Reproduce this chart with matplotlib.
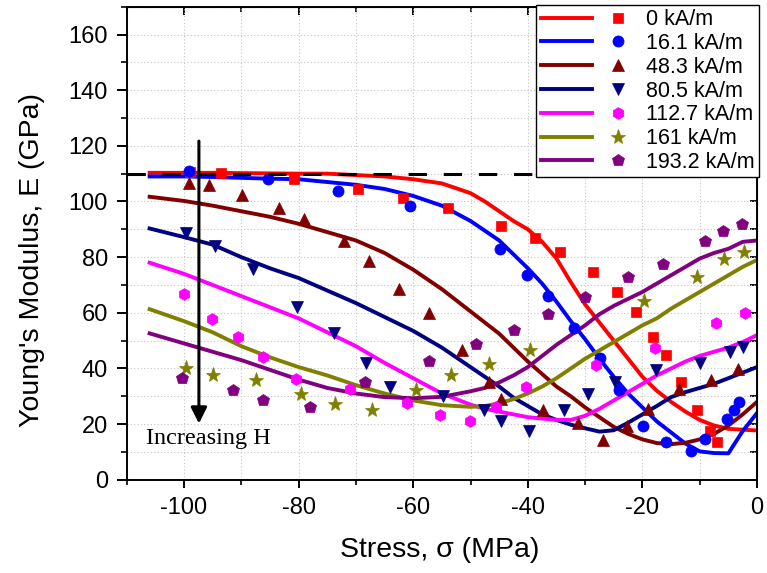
import matplotlib
matplotlib.use('Agg')
import matplotlib.pyplot as plt
from matplotlib.legend_handler import HandlerTuple
from matplotlib.ticker import MultipleLocator

plt.rcParams['font.family'] = ['Liberation Sans', 'DejaVu Sans']
plt.rcParams['axes.unicode_minus'] = False

# field strengths
labels = ['0 kA/m', '16.1 kA/m', '48.3 kA/m', '80.5 kA/m',
          '112.7 kA/m', '161 kA/m', '193.2 kA/m']
colors = ['#FF0000', '#0000FF', '#800000', '#000080',
          '#FF00FF', '#808000', '#800080']
markers = ['s', 'o', '^', 'v', 'h', '*', 'p']
msizes = [7.5, 8, 9, 9, 8.5, 11, 9]

# model curves (stress in MPa, E in GPa)
fit_x = [-106, -100, -95, -90, -85, -80, -75, -70, -65, -60, -55, -50, -47.5,
         -45, -42.5, -40, -37.5, -35, -32.5, -30, -27.5, -25, -22.5, -20,
         -17.5, -15, -12.5, -10, -7.5, -5, -2.5, 0]
fit_0 = [110.3, 110.3, 110.3, 110.2, 110.1, 110, 110, 109.5, 109, 108, 106.5,
         103, 100, 96.5, 93, 90, 85.5, 79.5, 71, 63, 56.5, 50, 43.5, 37,
         32, 28, 24.5, 21.5, 19.5, 18.3, 18, 17.7]
fit_16 = [109, 109, 108.8, 108.5, 108.2, 108, 107, 106, 104.5, 102, 98.5,
          93, 89.5, 86, 81, 76, 70.5, 64, 57, 50.5, 43.5, 37, 31, 26,
          21, 17, 13, 10.2, 9.6, 9.5, 17.5, 24]
fit_48 = [101.7, 100.2, 98.5, 96.5, 94.5, 92, 89, 86, 81.5, 75.5, 68.5,
          60.5, 56.5, 52.5, 47.5, 42.5, 38, 33.5, 30, 26, 22.5, 19, 16.5,
          14.5, 13.2, 12.8, 13.3, 14.5, 16.5, 19.5, 23.5, 28]
fit_80 = [90.3, 87.2, 84.5, 80, 76, 72.5, 68, 63.5, 58.5, 53.5, 47.5, 40.5,
          37, 33.5, 29.5, 26.5, 23.5, 21.5, 19.8, 18.5, 17.3, 17.8, 20.5,
          23.5, 26.5, 29.7, 31.5, 33, 34.5, 36.5, 38.5, 40.5]
fit_112 = [78, 74, 70, 66, 62, 58, 53, 48, 42, 36.5, 31, 27, 25.5, 24.5,
           23.5, 22.5, 22, 21.5, 21.5, 23, 25.5, 28.5, 31.5, 34.5, 37.5, 40,
           42.5, 44.5, 46, 47.5, 49.5, 52]
fit_161 = [61.3, 57, 53, 48, 44, 40.5, 37.5, 34, 31, 28.5, 26.8, 26.2, 26.5,
           27.5, 29, 31, 33.5, 36.5, 40, 43.5, 46.5, 49.5, 52.5, 55.5, 58,
           61.5, 64.5, 67.5, 70.5, 73.5, 76.5, 79]
fit_193 = [52.6, 49, 46, 43, 39.5, 36, 33, 31, 29.7, 29.3, 29.8, 31.8, 33,
           35, 37.5, 40.5, 44.5, 48.5, 52, 55.5, 59.5, 62.5, 65, 67.5, 70.5,
           73.5, 76.5, 79.5, 81.5, 83, 85.5, 86]
fits = [fit_0, fit_16, fit_48, fit_80, fit_112, fit_161, fit_193]

# measured points
x_0 = [-99, -93.6, -80.8, -69.7, -61.8, -54, -44.6, -38.7, -34.4, -28.7,
       -24.5, -21.2, -18.2, -15.9, -13.3, -10.5, -8.2, -6.9]
y_0 = [110.5, 110.4, 108, 104.6, 101.3, 97.7, 91.3, 86.9, 81.8, 74.8, 67.4,
       60.2, 51.4, 44.8, 35.1, 24.9, 17.7, 13.5]
x_16 = [-99.1, -85.4, -73.1, -60.5, -44.9, -40.1, -36.4, -32, -27.4, -24.1,
        -19.9, -15.8, -11.6, -9.1, -5.3, -4.1, -3.1]
y_16 = [111, 108, 103.7, 98.3, 82.9, 73.6, 66.2, 54.4, 43.6, 32.4, 19.5,
        13.5, 10.5, 14.7, 21.9, 25.2, 27.9]
x_48 = [-99.1, -95.6, -89.8, -83.5, -79, -72, -67.8, -62.4, -57.3, -51.4,
        -46.8, -44.6, -37.3, -31.2, -26.9, -22.7, -19.1, -13.6, -8.1, -3.3]
y_48 = [106.7, 106.1, 102.5, 97.7, 93.7, 85.7, 78.6, 68.6, 60.1, 46.8, 35.1,
        29.1, 24.9, 20.3, 14.3, 19.5, 25.5, 32.7, 35.7, 39.7]
x_80 = [-99.7, -94.6, -88, -80.3, -73.8, -68.3, -64, -54.8, -47.6, -44.6,
        -39.8, -33.7, -29.5, -24.8, -17.7, -10, -4.8, -2.5]
y_80 = [88.7, 83.9, 75.6, 62.2, 52.9, 41.9, 33.2, 30, 24.9, 21.3, 17.5, 24.9,
        30.9, 35.1, 39.4, 42.1, 46, 47.8]
x_112 = [-100, -95.1, -90.5, -86.3, -80.4, -71, -61.1, -55.4, -50.1, -45.5,
         -40.3, -28.1, -17.8, -7.2, -2.1]
y_112 = [66.6, 57.8, 51.4, 44.2, 36.3, 32.7, 27.7, 23.1, 21, 26.1, 33.4,
         41.2, 47.4, 56.4, 60]
x_161 = [-99.6, -94.9, -87.4, -79.6, -73.7, -67.2, -59.6, -53.4, -46.8,
         -39.7, -19.7, -10.5, -5.8, -2.3]
y_161 = [40, 37.5, 36, 30.7, 27.3, 25, 32.4, 37.5, 41.5, 46.5, 64.3, 72.7,
         79.3, 81.7]
x_193 = [-100.3, -91.4, -86.3, -78, -68.4, -57.3, -49, -42.4, -36.5, -30.1,
         -22.5, -16.4, -9.1, -5.9, -2.7]
y_193 = [36.6, 32.1, 28.8, 26.1, 35.3, 42.7, 48.8, 53.8, 59.6, 65.6, 72.7,
         77.5, 85.7, 89.5, 92]
pts_x = [x_0, x_16, x_48, x_80, x_112, x_161, x_193]
pts_y = [y_0, y_16, y_48, y_80, y_112, y_161, y_193]

fig = plt.figure(figsize=(7.67, 5.73), dpi=100)
ax = fig.add_axes([0.1652, 0.1627, 0.8218, 0.8256])

handles = []
for i in range(len(labels)):
    ln, = ax.plot(fit_x, fits[i], color=colors[i], lw=2.8, zorder=2)
    mk, = ax.plot(pts_x[i], pts_y[i], linestyle='none', marker=markers[i],
                  ms=msizes[i], color=colors[i], mec=colors[i], mew=0.5,
                  zorder=3)
    handles.append((ln, mk))

ax.axhline(110, color='black', lw=2.2, linestyle=(0, (6, 5.5)), zorder=4)

ax.annotate('', xy=(-97.4, 20.2), xytext=(-97.4, 121.7),
            arrowprops=dict(arrowstyle='-|>', lw=2.2, color='black',
                            mutation_scale=24, shrinkA=0, shrinkB=0),
            zorder=5)
ax.text(-106.7, 14.8, 'Increasing H', family='Liberation Serif',
        fontsize=17.5, ha='left', va='center')

ax.set_xlim(-110, 0)
ax.set_ylim(0, 170)
ax.xaxis.set_major_locator(MultipleLocator(20))
ax.xaxis.set_minor_locator(MultipleLocator(10))
ax.yaxis.set_major_locator(MultipleLocator(20))
ax.yaxis.set_minor_locator(MultipleLocator(10))
ax.grid(which='both', color='#c4c4c4', lw=0.8, linestyle=(0, (1, 2)))
ax.set_axisbelow(True)

for s in ax.spines.values():
    s.set_linewidth(1.4)
ax.tick_params(axis='x', which='major', direction='out', length=5.5,
               width=1.4, labelsize=17, pad=7)
ax.tick_params(axis='x', which='minor', direction='out', length=3.5,
               width=1.2)
ax.tick_params(axis='y', which='major', direction='out', length=7, width=1.4,
               labelsize=17, pad=6.5)
ax.tick_params(axis='y', which='minor', direction='out', length=4, width=1.2)

# inward ticks on top and right
top = ax.secondary_xaxis('top')
top.xaxis.set_major_locator(MultipleLocator(20))
top.xaxis.set_minor_locator(MultipleLocator(10))
top.tick_params(which='major', direction='in', length=6, width=1.4,
                labeltop=False)
top.tick_params(which='minor', direction='in', length=3.5, width=1.2)
right = ax.secondary_yaxis('right')
right.yaxis.set_major_locator(MultipleLocator(20))
right.yaxis.set_minor_locator(MultipleLocator(10))
right.tick_params(which='both', direction='in', length=5, width=1.3,
                  labelright=False)

ax.set_xlabel('Stress, σ (MPa)', fontsize=20.5)
ax.set_ylabel("Young's Modulus, E (GPa)", fontsize=20.5)
ax.xaxis.set_label_coords(0.497, -0.12)
ax.yaxis.set_label_coords(-0.13, 0.465)

leg = ax.legend(handles, labels, loc='upper right',
                bbox_to_anchor=(1.003, 1.004), borderaxespad=0,
                fontsize=15.5, numpoints=1,
                handler_map={tuple: HandlerTuple(ndivide=None, pad=0)},
                handlelength=4.8, handletextpad=0.1, labelspacing=0.13,
                borderpad=0.2, fancybox=False, framealpha=1,
                edgecolor='black')
leg.get_frame().set_linewidth(1.0)
leg.set_zorder(6)

fig.savefig('out.png', dpi=100)
